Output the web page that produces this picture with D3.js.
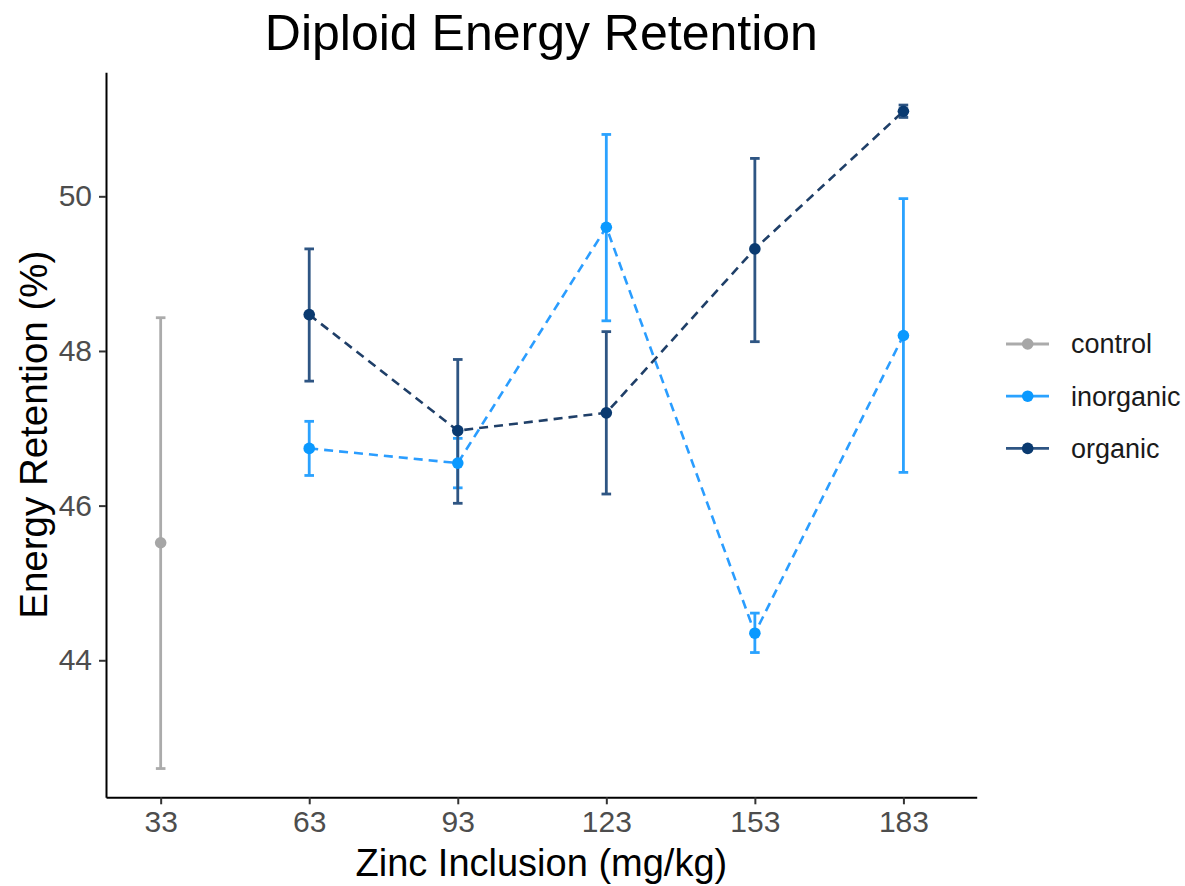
<!DOCTYPE html>
<html>
<head>
<meta charset="utf-8">
<script src="https://cdn.jsdelivr.net/npm/d3@7"></script>
<style>
  html, body { margin: 0; padding: 0; background: #ffffff; }
  svg { display: block; font-family: "Liberation Sans", Arial, Helvetica, sans-serif; }
</style>
</head>
<body>
<svg id="chart" width="1185" height="886"></svg>
<script>
// ---- data ----
const doseTicks = [33, 63, 93, 123, 153, 183];
const yTicks = [44, 46, 48, 50];
const groups = ["control", "inorganic", "organic"];

const controlDose = [33];
const controlMean = [45.52];
const controlLow = [42.60];
const controlHigh = [48.43];

const inorganicDose = [63, 93, 123, 153, 183];
const inorganicMean = [46.74, 46.55, 49.60, 44.35, 48.20];
const inorganicLow = [46.39, 46.23, 48.39, 44.10, 46.43];
const inorganicHigh = [47.09, 46.87, 50.80, 44.61, 49.97];

const organicDose = [63, 93, 123, 153, 183];
const organicMean = [48.47, 46.97, 47.20, 49.32, 51.10];
const organicLow = [47.61, 46.03, 46.15, 48.12, 51.02];
const organicHigh = [49.32, 47.89, 48.25, 50.49, 51.18];

const colors = { control: "#A6A6A6", inorganic: "#0A99FF", organic: "#0A3A70" };
const barColors = { control: "#ABABAB", inorganic: "#2AA2FF", organic: "#2E5583" };

function build(dose, mean, low, high) {
  return dose.map((d, i) => ({ dose: d, mean: mean[i], low: low[i], high: high[i] }));
}
const series = [
  { name: "control", values: build(controlDose, controlMean, controlLow, controlHigh) },
  { name: "inorganic", values: build(inorganicDose, inorganicMean, inorganicLow, inorganicHigh) },
  { name: "organic", values: build(organicDose, organicMean, organicLow, organicHigh) }
];

// ---- layout ----
const svg = d3.select("#chart");
const pLeft = 106, pRight = 976.7, pTop = 72.2, pBottom = 797.3;

const x = d3.scaleLinear().domain([21.96, 197.8]).range([pLeft, pRight]);
const y = d3.scaleLinear().domain([42.228, 51.605]).range([pBottom, pTop]);

// title
svg.append("text")
  .attr("x", (pLeft + pRight) / 2).attr("y", 50)
  .attr("text-anchor", "middle")
  .attr("font-size", 50).attr("fill", "#000")
  .text("Diploid Energy Retention");

// axes
const xAxis = svg.append("g")
  .attr("transform", `translate(0,${pBottom})`)
  .call(d3.axisBottom(x).tickValues(doseTicks).tickFormat(d3.format("d")).tickSizeInner(7).tickSizeOuter(0).tickPadding(6));
const yAxis = svg.append("g")
  .attr("transform", `translate(${pLeft},0)`)
  .call(d3.axisLeft(y).tickValues(yTicks).tickFormat(d3.format("d")).tickSizeInner(7).tickSizeOuter(0).tickPadding(7));

[xAxis, yAxis].forEach(g => {
  g.select(".domain").attr("stroke", "#000").attr("stroke-width", 2);
  g.selectAll(".tick line").attr("stroke", "#333").attr("stroke-width", 2);
  g.selectAll(".tick text").attr("fill", "#4D4D4D").attr("font-size", 30)
    .attr("font-family", "'Liberation Sans', Arial, sans-serif");
});

// axis titles
svg.append("text")
  .attr("x", (pLeft + pRight) / 2).attr("y", 876)
  .attr("text-anchor", "middle")
  .attr("font-size", 38).attr("fill", "#000")
  .text("Zinc Inclusion (mg/kg)");
svg.append("text")
  .attr("transform", `translate(47,${(pTop + pBottom) / 2}) rotate(-90)`)
  .attr("text-anchor", "middle")
  .attr("font-size", 38.5).attr("fill", "#000")
  .text("Energy Retention (%)");

// error bars
const capW = 4.8;
series.forEach(s => {
  const g = svg.append("g").attr("stroke", barColors[s.name]).attr("stroke-width", 2.8).attr("fill", "none");
  s.values.forEach(v => {
    const cx = x(v.dose);
    g.append("line").attr("x1", cx).attr("x2", cx).attr("y1", y(v.low)).attr("y2", y(v.high));
    g.append("line").attr("x1", cx - capW).attr("x2", cx + capW).attr("y1", y(v.low)).attr("y2", y(v.low));
    g.append("line").attr("x1", cx - capW).attr("x2", cx + capW).attr("y1", y(v.high)).attr("y2", y(v.high));
  });
});

// dashed lines
const line = d3.line().x(d => x(d.dose)).y(d => y(d.mean));
series.forEach(s => {
  if (s.values.length < 2) return;
  svg.append("path")
    .datum(s.values)
    .attr("d", line)
    .attr("fill", "none")
    .attr("stroke", s.name === "organic" ? "#1F3F68" : "#2A9DFF")
    .attr("stroke-width", 2.6)
    .attr("stroke-dasharray", "9,6");
});

// points
series.forEach(s => {
  svg.append("g").selectAll("circle")
    .data(s.values).join("circle")
    .attr("cx", d => x(d.dose)).attr("cy", d => y(d.mean))
    .attr("r", 5.8).attr("fill", colors[s.name]);
});

// legend
const legY0 = 344, legStep = 52.2;
groups.forEach((name, i) => {
  const gy = legY0 + i * legStep;
  const g = svg.append("g");
  g.append("line").attr("x1", 1006).attr("x2", 1049).attr("y1", gy).attr("y2", gy)
    .attr("stroke", barColors[name]).attr("stroke-width", 2.8);
  g.append("circle").attr("cx", 1027.7).attr("cy", gy).attr("r", 5.8).attr("fill", colors[name]);
  g.append("text").attr("x", 1071).attr("y", gy).attr("dy", "0.35em")
    .attr("font-size", 27).attr("fill", "#1A1A1A").text(name);
});
</script>
</body>
</html>
